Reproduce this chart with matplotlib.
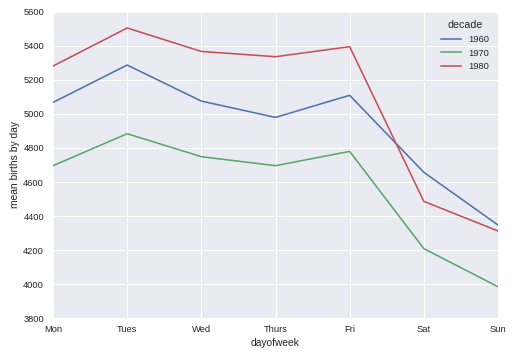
import matplotlib
matplotlib.use("Agg")
import matplotlib.pyplot as plt

days = ["Mon", "Tues", "Wed", "Thurs", "Fri", "Sat", "Sun"]
decades = ["1960", "1970", "1980"]
births_1960 = [5068, 5288, 5076, 4980, 5110, 4657, 4347]
births_1970 = [4696, 4884, 4749, 4696, 4780, 4208, 3984]
births_1980 = [5282, 5506, 5368, 5337, 5396, 4486, 4312]
colors = ["#4C72B0", "#55A868", "#C44E52"]

plt.rcParams["font.family"] = ["Liberation Sans", "DejaVu Sans"]
dpi = 64
fig = plt.figure(figsize=(514 / dpi, 356 / dpi), dpi=dpi, facecolor="white")
ax = fig.add_axes([53 / 514, 1 - 318 / 356, (498 - 53) / 514, (318 - 12) / 356])
ax.set_facecolor("#EAEAF2")
x = list(range(len(days)))
for lab, vals, c in zip(decades, [births_1960, births_1970, births_1980], colors):
    ax.plot(x, vals, color=c, lw=1.75, label=lab)
ax.set_xlim(0, 6)
ax.set_ylim(3800, 5600)
ax.set_xticks(x)
ax.set_xticklabels(days)
ax.set_yticks(range(3800, 5601, 200))
ax.grid(True, color="white", lw=1.2)
ax.set_axisbelow(True)
for s in ax.spines.values():
    s.set_visible(False)
ax.tick_params(length=0, labelsize=10.5, labelcolor="#262626")
ax.tick_params(axis="y", pad=10)
ax.tick_params(axis="x", pad=8)
ax.set_xlabel("dayofweek", fontsize=11.5, color="#262626", labelpad=4)
ax.set_ylabel("mean births by day", fontsize=11.5, color="#262626", labelpad=4)
leg = ax.legend(title="decade", frameon=False, loc="upper right", fontsize=10.5,
                title_fontsize=12, handlelength=2.2)
for t in leg.get_texts():
    t.set_color("#262626")
leg.get_title().set_color("#262626")
fig.savefig("out.png", dpi=dpi, facecolor="white")
